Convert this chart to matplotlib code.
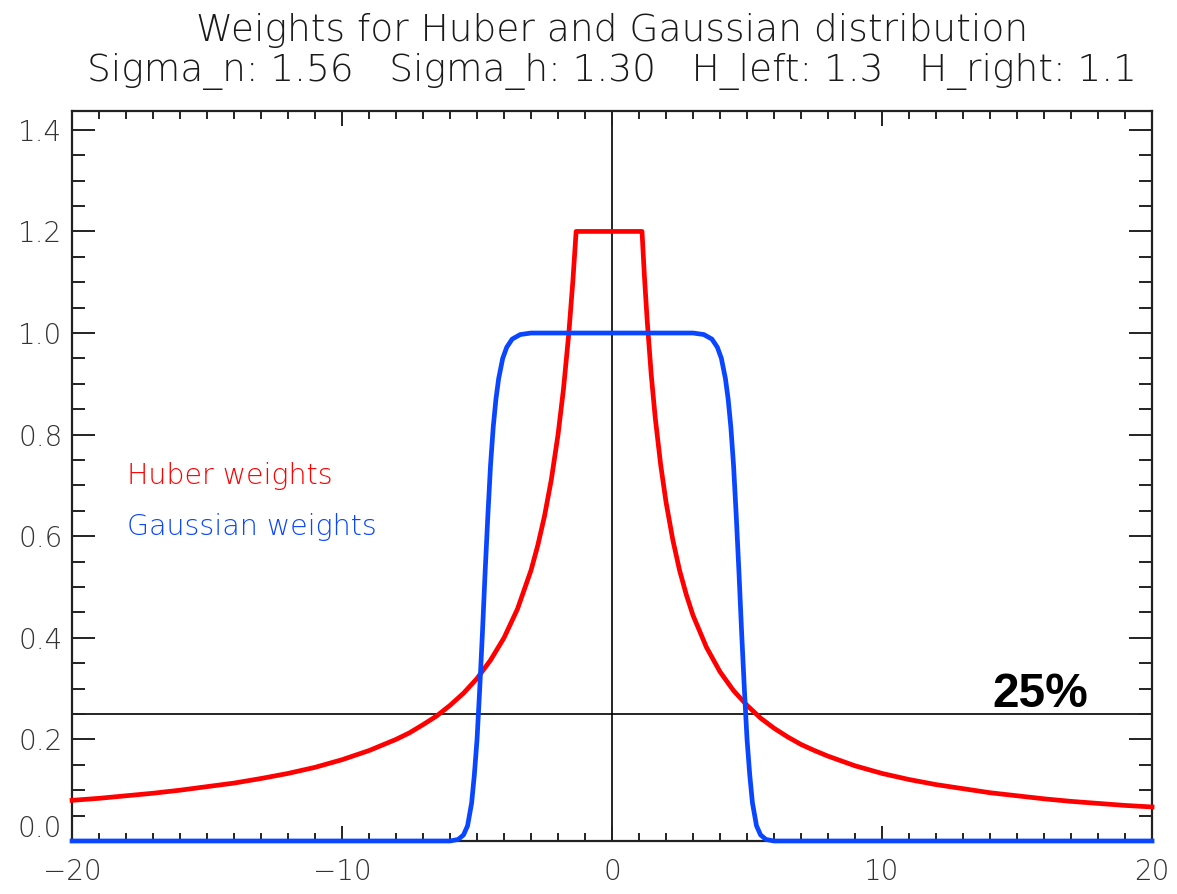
import matplotlib
matplotlib.use("Agg")
import matplotlib.pyplot as plt
from matplotlib.ticker import MultipleLocator
import numpy as np


# Huber weights, capped at 1.2 inside [-H_left, H_right]
huber_x = [-20, -19, -18, -17, -16, -15, -14, -13, -12, -11, -10, -9, -8,
           -7.5, -7, -6.5, -6, -5.5, -5, -4.5, -4, -3.5, -3, -2.75, -2.5,
           -2.25, -2, -1.8, -1.6, -1.45, -1.33, 1.11, 1.2, 1.3, 1.45, 1.6,
           1.8, 2.0, 2.25, 2.5, 2.75, 3, 3.5, 4, 4.5, 5, 5.5, 6, 6.5, 7,
           7.5, 8, 9, 10, 11, 12, 13, 14, 15, 16, 17, 18, 19, 20]
huber_w = [0.080, 0.084, 0.089, 0.094, 0.100, 0.107, 0.114, 0.123, 0.133,
           0.145, 0.160, 0.178, 0.200, 0.213, 0.229, 0.246, 0.267, 0.291,
           0.320, 0.356, 0.400, 0.457, 0.533, 0.582, 0.640, 0.711, 0.800,
           0.889, 1.000, 1.103, 1.200, 1.200, 1.111, 1.026, 0.919, 0.833,
           0.741, 0.667, 0.593, 0.533, 0.485, 0.444, 0.381, 0.333, 0.296,
           0.267, 0.242, 0.222, 0.205, 0.190, 0.178, 0.167, 0.148, 0.133,
           0.121, 0.111, 0.103, 0.095, 0.089, 0.083, 0.078, 0.074, 0.070,
           0.067]

# Gaussian weights
gauss_x = [-20, -6.0, -5.7, -5.5, -5.35, -5.2, -5.1, -5.0, -4.9, -4.8, -4.7,
           -4.6, -4.5, -4.4, -4.3, -4.2, -4.05, -3.9, -3.7, -3.4, -3.0,
           3.0, 3.4, 3.7, 3.9, 4.05, 4.2, 4.3, 4.4, 4.5, 4.6, 4.7, 4.8, 4.9,
           5.0, 5.1, 5.2, 5.35, 5.5, 5.7, 6.0, 20]
gauss_w = [0.0, 0.0, 0.003, 0.012, 0.030, 0.075, 0.13, 0.20, 0.30, 0.41,
           0.53, 0.64, 0.74, 0.815, 0.87, 0.91, 0.95, 0.972, 0.988, 0.997,
           1.0, 1.0, 0.997, 0.988, 0.972, 0.95, 0.91, 0.87, 0.815, 0.74,
           0.64, 0.53, 0.41, 0.30, 0.20, 0.13, 0.075, 0.030, 0.012, 0.003,
           0.0, 0.0]

CUTOFF = 0.25
TITLE = "Weights for Huber and Gaussian distribution"
SUBTITLE = "Sigma_n: 1.56   Sigma_h: 1.30   H_left: 1.3   H_right: 1.1"

RED = "#ff0000"
BLUE = "#0a46ff"
LABEL_FONT = "DejaVu Sans"

fig = plt.figure(figsize=(11.77, 8.94), dpi=100)
ax = fig.add_axes([0.0612, 0.0593, 0.9176, 0.8165])

ax.axvline(0, color="black", lw=1.2, zorder=1)
ax.axhline(CUTOFF, color="black", lw=1.2, zorder=1)
ax.plot(huber_x, huber_w, color=RED, lw=3.4, clip_on=False, zorder=3)
ax.plot(gauss_x, gauss_w, color=BLUE, lw=3.4, clip_on=False, zorder=3)

ax.set_xlim(-20, 20)
ax.set_ylim(0, 1.437)
ax.xaxis.set_major_locator(MultipleLocator(10))
ax.xaxis.set_minor_locator(MultipleLocator(1))
ax.yaxis.set_major_locator(MultipleLocator(0.2))
ax.yaxis.set_minor_locator(MultipleLocator(0.05))
# the 0.0 label is drawn separately, raised off the corner
ax.yaxis.set_major_formatter(
    plt.FuncFormatter(lambda v, p: "" if abs(v) < 1e-9 else f"{v:.1f}"))

ax.tick_params(axis="both", which="both", direction="in", top=True,
               right=True, width=1.4, colors="#222222", labelcolor="#333333",
               labelsize=20)
ax.tick_params(axis="x", which="major", length=11, pad=12)
ax.tick_params(axis="x", which="minor", length=6)
ax.tick_params(axis="y", which="major", length=16.5, pad=7)
ax.tick_params(axis="y", which="minor", length=9.5)
for lab in ax.get_xticklabels() + ax.get_yticklabels():
    lab.set_fontfamily(LABEL_FONT)
    lab.set_fontweight("light")
for sp in ax.spines.values():
    sp.set_linewidth(1.6)
    sp.set_color("#222222")

ax.annotate("0.0", xy=(0, 0), xycoords=("axes fraction", "data"),
            xytext=(-10, 12), textcoords="offset pixels", ha="right",
            va="center", fontsize=20, family=LABEL_FONT, fontweight="light",
            color="#333333", annotation_clip=False)

ax.text(-17.96, 0.718, "Huber weights", color=RED, fontsize=20.5,
        family=LABEL_FONT, fontweight="light", va="center", ha="left")
ax.text(-17.96, 0.618, "Gaussian weights", color=BLUE, fontsize=20.5,
        family=LABEL_FONT, fontweight="light", va="center", ha="left")
ax.text(14.1, 0.263, "25%", color="black", fontsize=34.5,
        family="Liberation Sans", fontweight="bold", ha="left", va="baseline")

cx = 0.0612 + 0.9176 / 2
fig.text(cx, 1 - 30 / 894, TITLE, ha="center", va="center", fontsize=27,
         family=LABEL_FONT, fontweight="light", color="#1a1a1a")
fig.text(cx, 1 - 71 / 894, SUBTITLE, ha="center", va="center", fontsize=27,
         family=LABEL_FONT, fontweight="light", color="#1a1a1a")

fig.savefig("out.png", dpi=100, facecolor="white")
